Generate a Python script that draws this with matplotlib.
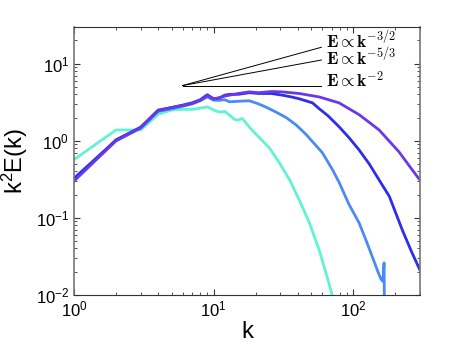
import matplotlib
matplotlib.use("Agg")
import matplotlib.pyplot as plt
from matplotlib.ticker import LogLocator, NullFormatter

plt.rcParams["font.family"] = ["Liberation Sans", "DejaVu Sans"]
plt.rcParams["mathtext.fontset"] = "custom"
plt.rcParams["mathtext.rm"] = "Liberation Sans"
plt.rcParams["mathtext.it"] = "Liberation Sans:italic"
plt.rcParams["mathtext.bf"] = "Liberation Sans:bold"

# spectra
k_cyan = [1, 2, 3, 4, 5, 6, 7, 8, 9, 10, 11, 12, 13, 14, 15, 16, 17, 19, 21,
          25, 29.5, 35, 41, 48.5, 57, 65, 71, 75]
e_cyan = [0.57, 1.38, 1.38, 2.2, 2.5, 2.55, 2.55, 2.65, 2.75, 2.5, 2.35, 2.4,
          2.15, 1.9, 1.85, 1.95, 1.7, 1.35, 1.12, 0.81, 0.52, 0.31, 0.17, 0.086,
          0.038, 0.017, 0.0095, 0.006]

k_lblue = [1, 2, 3, 4, 5, 6, 7, 8, 9, 10, 11, 12, 13, 15, 18, 21, 24, 28, 33,
           39, 46, 53, 60, 71, 79, 93, 110, 125, 137, 150, 158, 163, 166, 168]
e_lblue = [0.33, 1.0, 1.45, 2.4, 2.6, 2.8, 3.0, 3.3, 3.7, 3.35, 3.35, 3.4, 3.2,
           3.25, 3.3, 3.0, 2.7, 2.35, 2.0, 1.6, 1.2, 0.9, 0.7, 0.42, 0.29,
           0.15, 0.086, 0.048, 0.031, 0.02, 0.016, 0.015, 0.026, 0.002]

k_blue = [1, 2, 3, 4, 5, 6, 7, 8, 9, 10, 11, 12, 13, 15, 18, 21, 26, 31, 36,
          41, 51, 57, 66, 79, 93, 110, 130, 153, 181, 224, 260, 300]
e_blue = [0.32, 1.03, 1.5, 2.5, 2.7, 2.9, 3.1, 3.4, 3.95, 3.5, 3.6, 3.9, 4.0,
          4.0, 4.2, 4.1, 4.1, 3.9, 3.7, 3.5, 3.1, 2.6, 2.1, 1.52, 1.1, 0.76,
          0.5, 0.31, 0.19, 0.07, 0.037, 0.021]

k_purple = [1, 2, 3, 4, 5, 6, 7, 8, 9, 10, 11, 12, 13, 15, 18, 21, 26, 31, 41,
            57, 79, 110, 153, 212, 250, 288, 300]
e_purple = [0.30, 1.0, 1.48, 2.45, 2.7, 2.85, 3.05, 3.35, 3.85, 3.5, 3.6, 3.8,
            3.9, 4.1, 4.3, 4.2, 4.35, 4.3, 4.1, 3.7, 3.1, 2.18, 1.38, 0.72,
            0.48, 0.34, 0.31]

# reference slopes for k^2 E(k)
k_ref = [6, 59]
slopes = [0.5, 1 / 3, 0.0]
ref_labels = [r"$\mathbf{E}\propto\mathbf{k}^{-3/2}$",
              r"$\mathbf{E}\propto\mathbf{k}^{-5/3}$",
              r"$\mathbf{E}\propto\mathbf{k}^{-2}$"]
ref_level = 5.2

fig = plt.figure(figsize=(4.63, 3.49), dpi=100)
ax = fig.add_axes([0.160, 0.155, 0.747, 0.768])

ax.loglog(k_cyan, e_cyan, color="#62F2D4", lw=2)
ax.loglog(k_lblue, e_lblue, color="#4A8AF4", lw=2)
ax.loglog(k_blue, e_blue, color="#2E2EEA", lw=2)
ax.loglog(k_purple, e_purple, color="#6A38E6", lw=2)

label_dy = [1.0, 0.86, 0.96]
for s, lab, dy in zip(slopes, ref_labels, label_dy):
    y_end = ref_level * (k_ref[1] / k_ref[0]) ** s
    ax.plot(k_ref, [ref_level, y_end], color="black", lw=0.7)
    ax.text(k_ref[1] * 1.085, y_end * dy, lab, fontsize=12.5, va="baseline",
            ha="left", math_fontfamily="cm")

ax.set_xlim(1, 300)
ax.set_ylim(0.01, 30)
ax.set_xlabel("k", fontsize=17, labelpad=1)
ax.set_ylabel("k$^2$E(k)", fontsize=17)

ax.xaxis.set_major_locator(LogLocator(base=10))
ax.yaxis.set_major_locator(LogLocator(base=10))
ax.xaxis.set_minor_locator(LogLocator(base=10, subs=range(2, 10)))
ax.yaxis.set_minor_locator(LogLocator(base=10, subs=range(2, 10)))
ax.xaxis.set_minor_formatter(NullFormatter())
ax.yaxis.set_minor_formatter(NullFormatter())
ax.tick_params(which="both", direction="in", top=True, right=True,
               labelsize=12, colors="#333333", labelcolor="black")
ax.tick_params(which="major", length=4)
ax.tick_params(which="minor", length=2)
for side in ["top", "bottom"]:
    ax.spines[side].set_color("#333333")
for side in ["left", "right"]:
    ax.spines[side].set_color("#777777")
    ax.spines[side].set_linewidth(1.2)

fig.savefig("out.png", dpi=100)
